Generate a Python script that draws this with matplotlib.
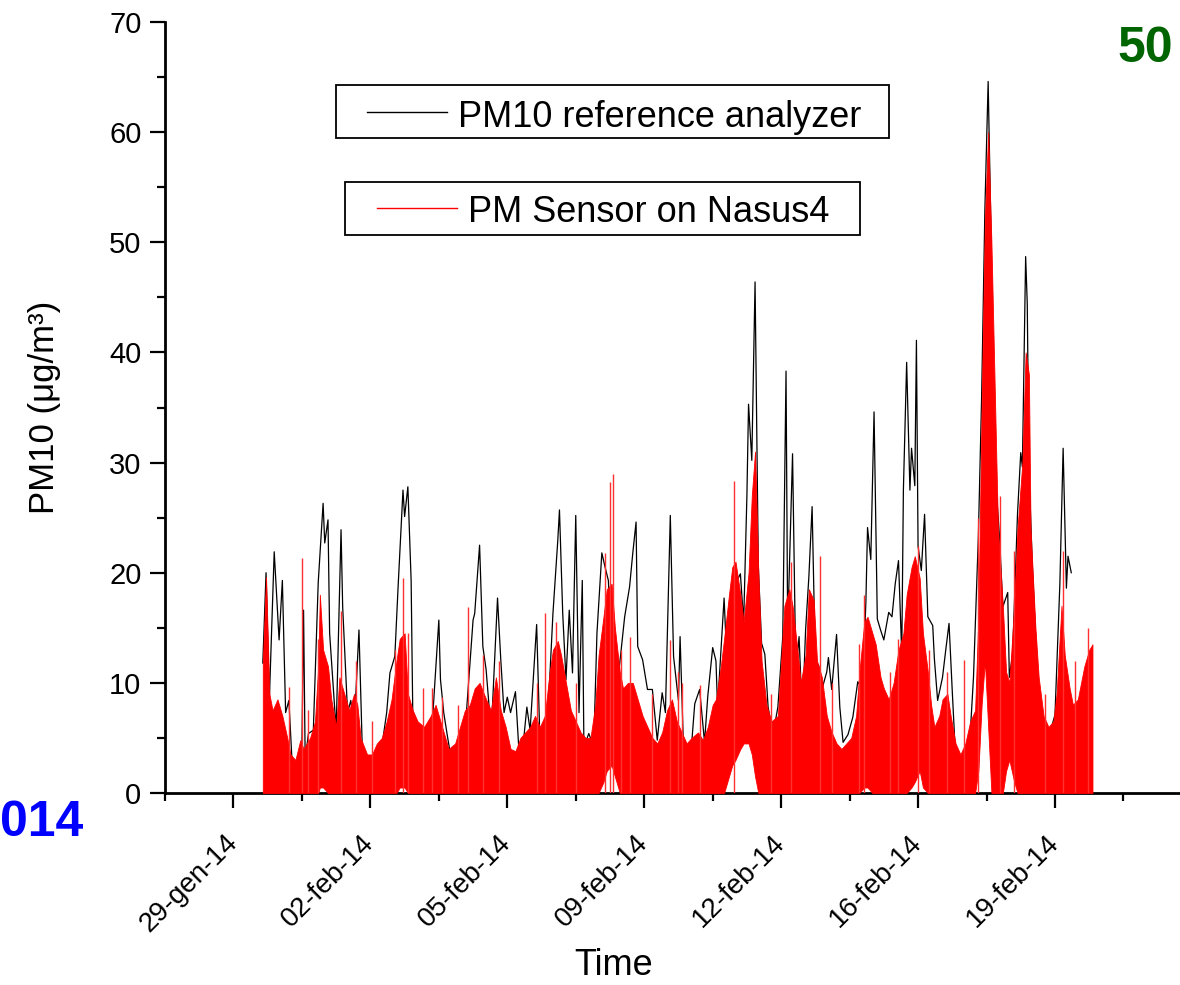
import numpy as np
import matplotlib
matplotlib.use("Agg")
import matplotlib.pyplot as plt
import matplotlib.dates as mdates
from matplotlib.ticker import FixedLocator, FuncFormatter, MultipleLocator
from matplotlib.patches import Rectangle
from matplotlib.lines import Line2D

plt.rcParams['font.family'] = ['Liberation Sans', 'DejaVu Sans']

# --- DATI (ore dal 30-gen-2014 00:00) ---
black_hours = [6, 8, 10, 13, 16, 18, 20, 22, 24, 27, 30, 31, 32, 34, 37, 39, 40, 43, 44, 46,
               47, 51, 54, 55, 58, 60, 62, 65, 67, 71, 75, 79, 82, 84, 87, 89, 92, 93, 95, 97,
               98, 101, 106, 110, 114, 115, 117, 119, 122, 126, 130, 135, 136, 139, 141, 143, 146, 147, 150, 152,
               154, 156, 158, 161, 163, 166, 168, 170, 172, 174, 176, 179, 182, 184, 187, 188, 190, 192, 194, 196,
               198, 200, 202, 203, 206, 209, 211, 214, 216, 218, 220, 222, 225, 228, 231, 233, 235, 236, 239, 242,
               245, 248, 251, 253, 256, 258, 261, 262, 264, 268, 271, 274, 277, 279, 282, 284, 285, 289, 291, 293,
               295, 297, 299, 301, 303, 304, 306, 308, 310, 312, 314, 316, 319, 322, 325, 327, 328, 331, 333, 335,
               337, 339, 341, 343, 345, 347, 349, 352, 353, 355, 358, 360, 362, 365, 368, 371, 374, 376, 377, 379,
               381, 383, 385, 387, 390, 392, 394, 396, 398, 399, 401, 403, 404, 406, 407, 408, 410, 412, 414, 417,
               418, 420, 423, 425, 427, 429, 431, 435, 439, 442, 445, 447, 449, 451, 453, 454, 456, 458, 460, 463,
               464, 466, 469, 471, 472, 474, 475, 476, 478, 480, 482, 484, 488, 492, 495, 497, 499, 500, 502]
black_pm10 = [11.8, 20.0, 8.4, 21.9, 13.9, 19.3, 7.3, 8.4, 2.7, 2.4, 4.2, 16.6, 3.0, 5.4, 5.7, 14.8, 19.1, 26.3, 22.7, 24.8,
              14.5, 5.7, 23.9, 16.9, 7.3, 8.4, 5.7, 14.8, 4.2, 2.4, 2.7, 4.2, 7.3, 10.9, 12.4, 18.7, 27.5, 25.1, 27.8, 19.3,
              7.3, 4.8, 5.4, 6.4, 15.7, 10.3, 7.3, 5.4, 2.7, 3.6, 5.4, 15.7, 16.3, 22.5, 13.3, 11.2, 5.7, 8.2, 17.7, 12.1,
              7.3, 8.7, 7.3, 9.2, 4.2, 4.8, 7.8, 5.7, 10.5, 15.3, 4.8, 3.3, 10.3, 16.3, 23.0, 25.7, 16.3, 10.3, 16.6, 10.9,
              25.2, 7.3, 19.3, 4.2, 5.4, 4.2, 14.5, 21.8, 20.5, 19.3, 13.3, 7.3, 11.8, 16.0, 18.7, 21.8, 24.6, 13.3, 12.1, 9.4,
              9.4, 4.8, 9.1, 7.3, 25.2, 12.4, 8.4, 14.2, 4.6, 2.4, 8.1, 9.4, 4.6, 8.8, 13.2, 12.0, 7.8, 17.7, 11.0, 14.2,
              17.1, 19.3, 19.9, 15.5, 27.0, 35.3, 30.2, 46.4, 20.6, 13.6, 12.6, 7.8, 5.3, 7.8, 14.2, 38.3, 14.8, 30.8, 11.0, 14.2,
              6.9, 14.8, 19.6, 26.0, 11.6, 11.6, 9.4, 11.0, 12.3, 9.4, 14.4, 7.8, 4.6, 5.3, 6.9, 10.1, 9.4, 17.4, 24.1, 21.2,
              34.6, 15.8, 14.8, 13.9, 16.4, 16.0, 19.0, 21.1, 12.6, 27.5, 39.1, 27.5, 31.3, 27.9, 41.1, 22.4, 20.2, 25.3, 16.0, 15.2,
              12.2, 8.4, 10.5, 13.0, 15.4, 9.2, 3.3, 2.4, 2.8, 10.5, 23.3, 36.0, 53.0, 64.6, 48.7, 34.3, 27.5, 23.2, 16.9, 18.2,
              10.5, 12.6, 25.3, 30.9, 29.6, 48.7, 44.4, 29.6, 21.1, 14.7, 9.2, 6.2, 5.0, 7.1, 19.0, 31.3, 18.6, 21.5, 20.0]

red_hours = [6, 8, 10, 12, 15, 18, 21, 23, 26, 29, 31, 35, 38, 40, 41, 43, 46, 48, 51, 53,
             55, 59, 62, 64, 66, 70, 73, 76, 79, 82, 85, 88, 90, 93, 95, 98, 101, 105, 109, 112,
             116, 120, 124, 127, 130, 133, 136, 139, 143, 146, 149, 152, 155, 158, 161, 164, 167, 170, 173, 176,
             179, 182, 184, 187, 189, 192, 195, 198, 201, 204, 207, 210, 212, 215, 217, 220, 222, 225, 227, 230,
             233, 236, 239, 242, 245, 248, 251, 254, 257, 260, 263, 266, 269, 273, 276, 279, 282, 284, 287, 289,
             292, 294, 296, 299, 301, 304, 306, 308, 310, 312, 315, 318, 322, 324, 326, 329, 331, 334, 336, 339,
             341, 344, 346, 349, 352, 355, 358, 361, 364, 367, 370, 372, 375, 377, 380, 382, 385, 387, 390, 393,
             396, 399, 401, 404, 406, 409, 411, 414, 416, 418, 421, 423, 426, 428, 431, 434, 437, 440, 443, 445,
             447, 449, 451, 453, 455, 457, 460, 462, 464, 467, 469, 472, 474, 476, 477, 480, 482, 485, 488, 491,
             493, 496, 498, 501, 503, 506, 508, 510, 513, 515]
red_top = [11.8, 19.6, 9.0, 7.5, 8.5, 7.0, 5.0, 3.5, 3.0, 4.8, 4.0, 5.0, 6.5, 11.5, 18.0, 13.0, 11.5, 8.5, 6.0, 10.5,
           9.5, 7.5, 9.0, 8.0, 5.0, 3.5, 3.5, 4.5, 5.0, 6.5, 8.5, 12.0, 14.0, 14.5, 9.0, 7.5, 6.5, 6.0, 7.0, 8.0,
           6.0, 4.0, 4.5, 6.0, 7.5, 8.0, 9.5, 10.0, 8.5, 7.5, 10.5, 7.5, 6.0, 4.0, 3.8, 5.0, 5.5, 6.0, 7.0, 6.0,
           7.0, 11.0, 13.0, 13.8, 12.5, 10.0, 7.5, 6.5, 5.5, 5.0, 5.0, 8.0, 12.5, 16.0, 18.5, 19.0, 15.0, 11.0, 9.5, 10.0,
           10.0, 8.5, 7.0, 6.0, 5.0, 4.5, 5.5, 7.5, 8.5, 6.5, 5.5, 4.5, 5.0, 5.5, 4.8, 6.0, 8.0, 8.5, 11.5, 14.0,
           18.0, 20.5, 21.0, 18.0, 15.5, 20.0, 27.0, 31.0, 20.0, 12.0, 8.0, 6.5, 7.0, 12.0, 17.0, 18.5, 17.0, 13.0, 10.0, 12.5,
           18.5, 17.5, 12.0, 10.5, 7.0, 5.5, 4.5, 4.0, 4.5, 5.0, 7.0, 11.0, 15.5, 16.0, 14.5, 13.5, 10.5, 9.5, 8.5, 10.0,
           13.0, 14.5, 18.0, 20.5, 21.5, 19.5, 14.5, 11.0, 8.0, 6.0, 7.0, 8.5, 9.0, 7.0, 4.5, 3.5, 4.5, 6.5, 7.5, 16.0,
           35.0, 52.0, 60.0, 50.0, 37.0, 24.0, 17.0, 11.0, 10.0, 17.0, 24.0, 30.0, 40.0, 38.0, 24.0, 15.0, 10.5, 7.0, 6.0, 6.5,
           9.0, 17.0, 12.5, 9.5, 8.0, 8.5, 10.0, 11.5, 13.0, 13.5]
red_bottom = [0, 0, 0, 0, 0, 0, 0, 0, 0, 0, 0, 0, 0, 0, 0.5, 0.5, 0, 0, 0, 0,
              0, 0, 0, 0, 0, 0, 0, 0, 0, 0, 0, 0, 0.5, 0.5, 0, 0, 0, 0, 0, 0,
              0, 0, 0, 0, 0, 0, 0, 0, 0, 0, 0, 0, 0, 0, 0, 0, 0, 0, 0, 0,
              0, 0, 0, 0, 0, 0, 0, 0, 0, 0, 0, 0, 0, 1.0, 2.0, 2.5, 1.5, 0, 0, 0,
              0, 0, 0, 0, 0, 0, 0, 0, 0, 0, 0, 0, 0, 0, 0, 0, 0, 0, 0, 0,
              1.5, 2.5, 3.0, 4.0, 4.5, 4.5, 3.5, 1.5, 0, 0, 0, 0, 0, 0, 0, 0, 0, 0, 0, 0,
              0, 0, 0, 0, 0, 0, 0, 0, 0, 0, 0, 0, 0.5, 0.5, 0, 0, 0, 0, 0, 0,
              0, 0, 0, 0.5, 1.0, 2.0, 0.5, 0, 0, 0, 0, 0, 0, 0, 0, 0, 0, 0, 0, 2.0,
              8.0, 12.0, 6.0, 0, 0, 0, 0, 2.0, 3.0, 1.0, 0, 0, 0, 0, 0, 0, 0, 0, 0, 0,
              0, 0, 0, 0, 0, 0, 0, 0, 0, 0]

# picchi sottili del sensore sopra l'inviluppo
spike_hours = [22, 30, 34, 40, 54, 63, 73, 87, 92, 95, 104, 110, 116, 126, 132, 141, 151, 174, 179, 186,
               198, 216, 219, 221, 226, 231, 245, 256, 261, 263, 274, 295, 318, 330, 348, 355, 372, 375, 391, 396,
               408, 415, 426, 436, 445, 458, 467, 486, 497, 504, 512]
spike_pm = [9.6, 21.3, 7.5, 14.0, 16.5, 12.0, 6.5, 13.0, 19.5, 14.5, 9.5, 9.5, 8.7, 8.0, 16.9, 12.5, 12.0, 10.0, 16.3, 15.5,
            10.0, 21.8, 28.2, 29.0, 13.0, 14.2, 9.0, 13.9, 11.0, 10.0, 9.8, 28.3, 9.0, 21.0, 21.5, 10.0, 13.5, 18.0, 11.0, 14.0,
            22.4, 13.0, 11.0, 12.1, 25.0, 27.0, 22.0, 9.0, 22.0, 12.0, 15.0]

MESI = {1: "gen", 2: "feb"}
START = np.datetime64('2014-01-30T00:00')

def to_time(hours):
    return START + np.array(hours, dtype='timedelta64[h]')

t_black = to_time(black_hours)
t_red = to_time(red_hours)
t_spike = to_time(spike_hours)

fig = plt.figure(figsize=(11.8, 9.85), dpi=100)
ax = fig.add_axes([165 / 1180, 1 - 793 / 985, 1015 / 1180, 771 / 985])

ax.plot(t_black, black_pm10, color='black', linewidth=0.9, zorder=2)
ax.fill_between(t_red, red_bottom, red_top, color='#ff0000', linewidth=0.6, zorder=3)
ax.vlines(t_spike, 0, spike_pm, color='#ff3030', linewidth=1.0, zorder=3)

# asse x: tick ogni 3.5 giorni come in Origin
major = to_time([-12, 72, 156, 240, 324, 408, 492])
minor = to_time([-54, 30, 114, 198, 282, 366, 450, 534])
ax.xaxis.set_major_locator(FixedLocator(mdates.date2num(major)))
ax.xaxis.set_minor_locator(FixedLocator(mdates.date2num(minor)))

def fmt_date(v, pos):
    d = mdates.num2date(v)
    return f"{d.day:02d}-{MESI[d.month]}-{d:%y}"

ax.xaxis.set_major_formatter(FuncFormatter(fmt_date))
ax.set_xlim(to_time([-54])[0], np.datetime64('2014-02-22T16:42'))
ax.set_ylim(0, 70)
ax.yaxis.set_major_locator(MultipleLocator(10))
ax.yaxis.set_minor_locator(MultipleLocator(5))

for s in ['top', 'right']:
    ax.spines[s].set_visible(False)
for s in ['left', 'bottom']:
    ax.spines[s].set_linewidth(2.0)

ax.tick_params(which='major', direction='out', length=11, width=1.6)
ax.tick_params(which='minor', direction='out', length=6, width=1.6)
ax.tick_params(axis='y', which='major', pad=6, labelsize=21)
ax.tick_params(axis='x', which='major', pad=22, labelsize=20)
for lab in ax.get_xticklabels():
    lab.set_rotation(45)
    lab.set_ha('right')
    lab.set_va('center')
    lab.set_rotation_mode('anchor')

ax.set_xlabel("Time", fontsize=26)
ax.xaxis.set_label_coords(0.442, -0.201)
ax.set_ylabel("PM10 (μg/m³)", fontsize=25)
ax.yaxis.set_label_coords(-0.102, 0.5)

# legenda come due riquadri separati
def legend_box(x0, y0, x1, y1, lx0, lx1, ly, tx, ty, color, label):
    W, H = 1180, 985
    fig.add_artist(Rectangle((x0 / W, 1 - y1 / H), (x1 - x0) / W, (y1 - y0) / H,
                             fill=False, edgecolor='black', linewidth=1.3, transform=fig.transFigure))
    fig.add_artist(Line2D([lx0 / W, lx1 / W], [1 - ly / H, 1 - ly / H], color=color,
                          linewidth=1.0, transform=fig.transFigure))
    fig.text(tx / W, 1 - ty / H, label, fontsize=26, va='baseline', ha='left')

legend_box(336, 85, 889, 138, 367, 447, 112, 458, 127, 'black', "PM10 reference analyzer")
legend_box(345, 182, 860, 235, 377, 457, 208, 468, 222, '#ff0000', "PM Sensor on Nasus4")

# frammenti di testo tagliati nell'immagine originale
fig.text(1117 / 1180, 1 - 62 / 985, "50", color='#006400', fontsize=36, fontweight='bold',
         ha='left', va='baseline')
fig.text(0.0, 1 - 836 / 985, "014", color='#0000ff', fontsize=36, fontweight='bold',
         ha='left', va='baseline')

fig.savefig("out.png", dpi=100)
